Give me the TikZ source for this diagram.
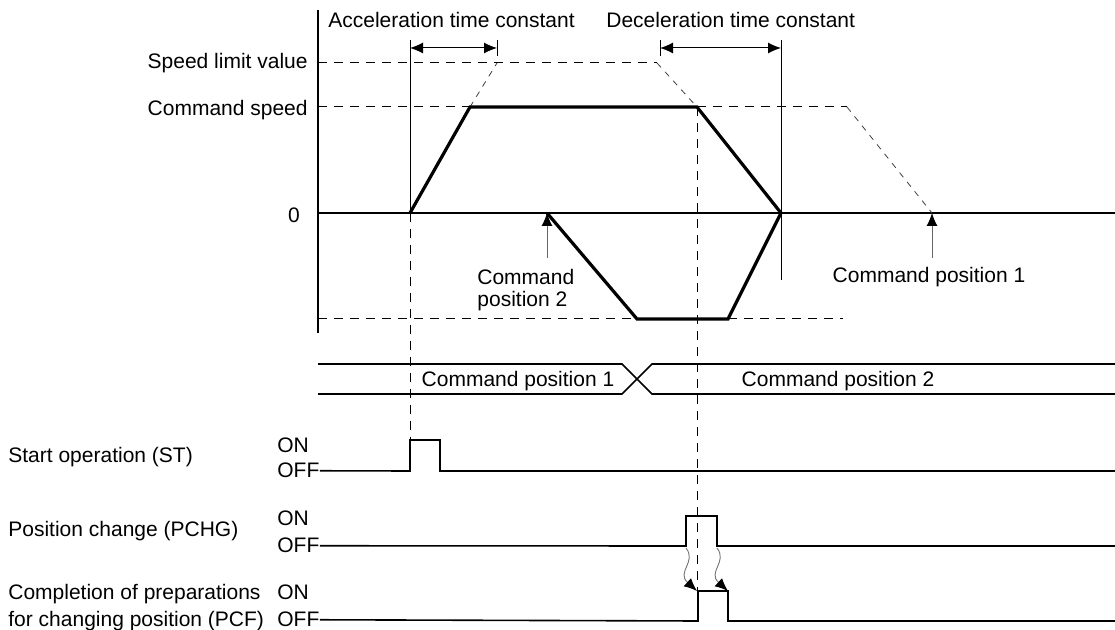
\documentclass[tikz,border=0pt]{standalone}
\usepackage{fontspec}
\setmainfont{Liberation Sans}
\usepackage{tikz}
\usetikzlibrary{calc,arrows.meta}
\tikzstyle{every picture}=[>={Latex[length=6.5pt,width=5.5pt]}]
\tikzstyle{every node}=[inner sep=0pt, font=\fontsize{10.5}{12.6}\selectfont]
\tikzstyle{axisline}=[line width=1pt]
\tikzstyle{boldline}=[line width=1.6pt, line join=miter]
\tikzstyle{sigline}=[line width=0.8pt]
\tikzstyle{busline}=[line width=0.8pt]
\tikzstyle{hairline}=[line width=0.5pt]
\tikzstyle{dashline}=[line width=0.5pt, dash pattern=on 4.5pt off 3.5pt]
\tikzstyle{guideline}=[line width=0.4pt, black!75, dash pattern=on 3pt off 3pt]
\tikzstyle{pointer}=[line width=0.5pt, black!60, -{Latex[length=6.5pt,width=5.5pt,color=black]}]
\tikzstyle{wavy}=[line width=0.45pt, black!55, -{Latex[length=6.5pt,width=5.5pt,color=black]}]

\begin{document}
\begin{tikzpicture}[x=0.5pt,y=-0.5pt]
\useasboundingbox (0,0) rectangle (1115,630);

% speed axis and zero line
\draw[axisline] (318,10) -- (318,333);
\coordinate (zl) at (318,213);
\coordinate (zr) at (1115,213);
\draw[axisline] (zl) -- (zr);
\node[anchor=base east] (vlim) at (308,69) {Speed limit value};
\node[anchor=base east] (vcmd) at (308,116) {Command speed};
\node[anchor=base] (vzero) at (294,223) {0};

% corner points of the speed profile
\coordinate (a0) at (410,213);
\coordinate (a1) at (470,107);
\coordinate (a2) at (497,63);
\coordinate (d0) at (657,63);
\coordinate (d1) at (697,107);
\coordinate (d2) at (781,213);
\coordinate (r0) at (547,213);
\coordinate (r1) at (637,319);
\coordinate (r2) at (728,319);
\coordinate (p0) at (847,107);
\coordinate (p1) at (932,213);

% dashed levels
\draw[dashline] (318,63) -- (d0);
\draw[dashline] (318,107) -- (a1);
\draw[dashline] (d1) -- (p0);
\draw[dashline] (318,319) -- (r1);
\draw[dashline] (r2) -- (843,319);
\draw[guideline] (a1) -- (a2);
\draw[guideline] (d0) -- (d1);
\draw[guideline] (p0) -- (p1);

% Now the actual profile on top
\draw[boldline] (a0) -- (a1) -- (d1) -- (d2);
\draw[boldline] (r0) -- (r1) -- (r2) -- (d2);

% time constants
\draw[hairline] (410,40) -- (a0);
\draw[hairline] (497,40) -- (497,56);
\draw[hairline] (660,40) -- (660,56);
\draw[hairline] (781,40) -- (781,280);
\draw[hairline,<->] (410,48) -- (497,48);
\draw[hairline,<->] (660,48) -- (781,48);
\node[anchor=base west] (acc) at (328,28) {Acceleration time constant};
\node[anchor=base west] (dec) at (606,28) {Deceleration time constant};

% command positions
\node[anchor=base west] (cp2a) at (477,285) {Command};
\node[anchor=base west] (cp2b) at (477,307) {position 2};
\coordinate (cp2) at (547,258);
\draw[pointer] (cp2) -- (r0);
\node[anchor=base] (cp1) at (929,283) {Command position 1};
\coordinate (cp1t) at (932,258);
\draw[pointer] (cp1t) -- (p1);

% command position bus
\draw[busline] (318,364) -- (622,364) -- (652,394) -- (1115,394);
\draw[busline] (318,394) -- (622,394) -- (652,364) -- (1115,364);
\node[anchor=base] (bus1) at (518,387) {Command position 1};
\node[anchor=base] (bus2) at (838,387) {Command position 2};

% signals
\node[anchor=base west] (st) at (8,463) {Start operation (ST)};
\node[anchor=base west] (ston) at (277,453) {ON};
\node[anchor=base west] (stoff) at (277,478) {OFF};
\draw[sigline] (stoff.east) -- (410,471) -- (410,440) -- (440,440) -- (440,471) -- (1115,471);

\node[anchor=base west] (pchg) at (8,537) {Position change (PCHG)};
\node[anchor=base west] (pchgon) at (277,526) {ON};
\node[anchor=base west] (pchgoff) at (277,553) {OFF};
\draw[sigline] (pchgoff.east) -- (686,546) -- (686,516) -- (717,516) -- (717,546) -- (1115,546);

\node[anchor=base west] (pcfa) at (8,600) {Completion of preparations};
\node[anchor=base west] (pcfb) at (8,627) {for changing position (PCF)};
\node[anchor=base west] (pcfon) at (277,600) {ON};
\node[anchor=base west] (pcfoff) at (277,627) {OFF};
\draw[sigline] (pcfoff.east) -- (698,621) -- (698,591) -- (728,591) -- (728,621) -- (1115,621);

% dashed timing marks
\coordinate (sthi) at (410,440);
\coordinate (pcfhi) at (697,591);
\draw[dashline] (a0) -- (sthi);
\draw[dashline] (d1) -- (pcfhi);

% PCHG -> PCF response
\coordinate (w1) at (686,548);
\coordinate (w2) at (717,548);
\coordinate (w3) at (728,591);
\draw[wavy] (w1) .. controls (697,562) and (676,572) .. (pcfhi);
\draw[wavy] (w2) .. controls (728,562) and (707,572) .. (w3);
\end{tikzpicture}
\end{document}
